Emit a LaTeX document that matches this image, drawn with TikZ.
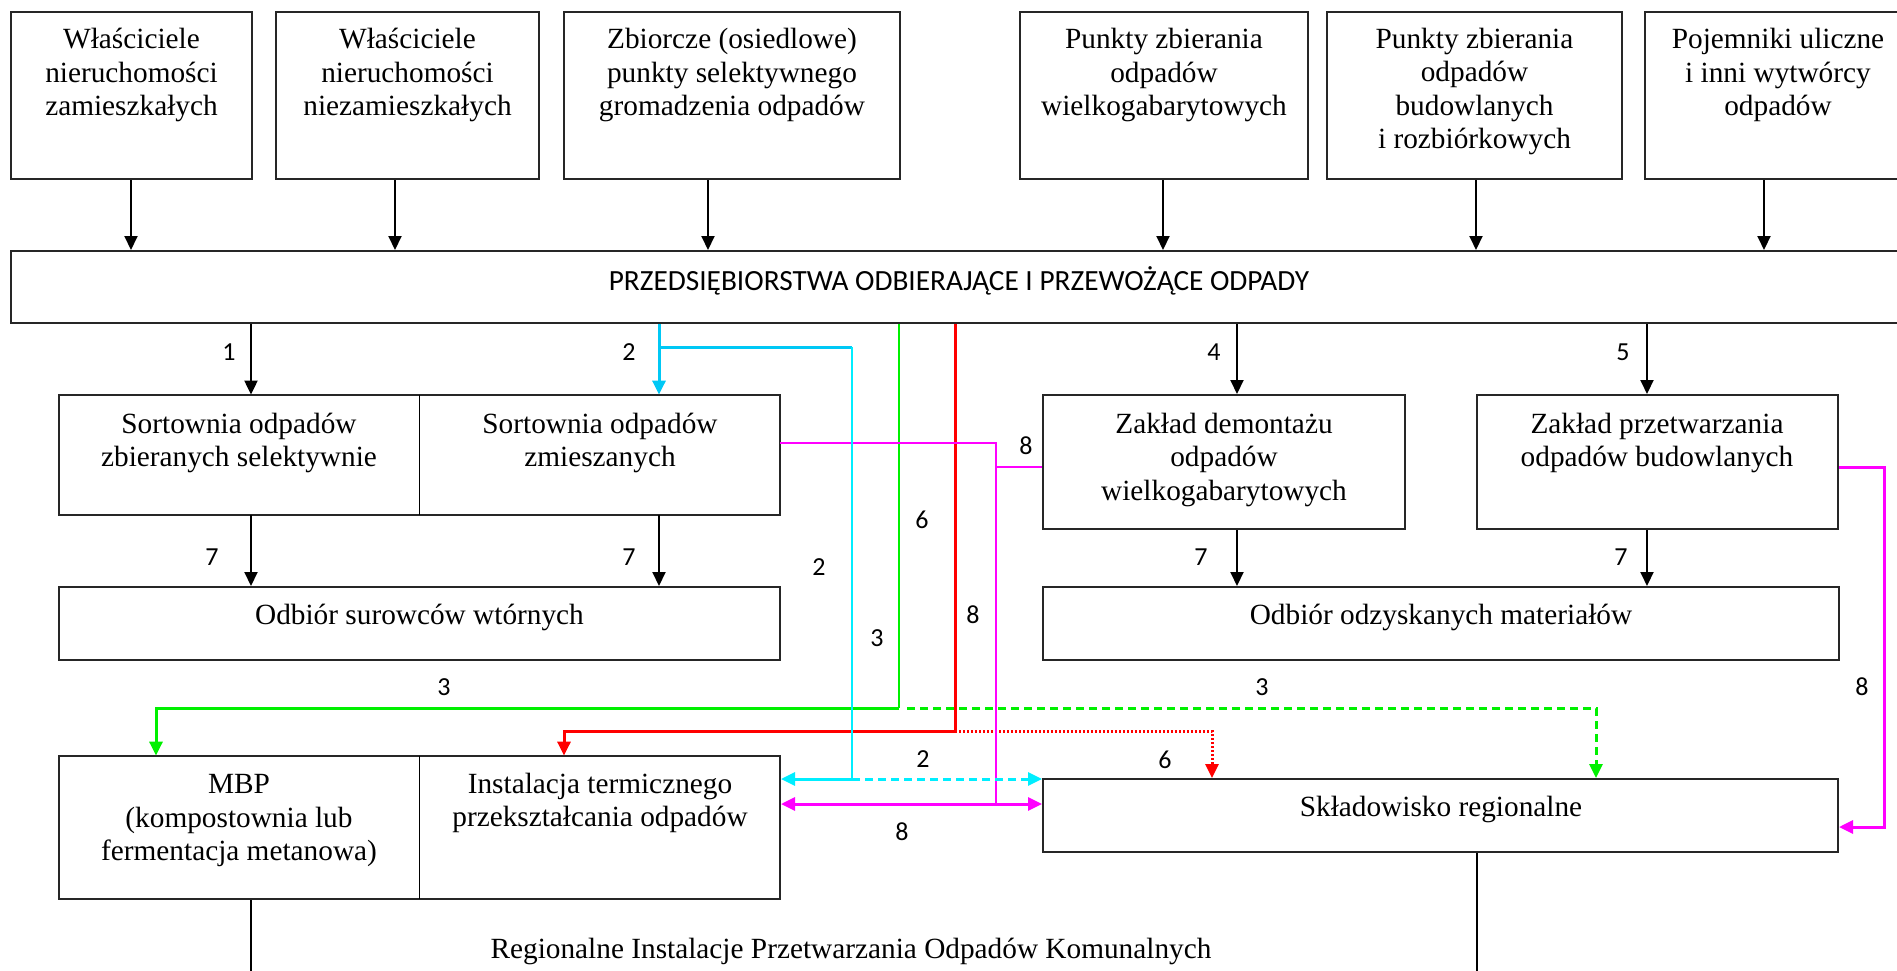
\documentclass[tikz,border=0pt]{standalone}
\usepackage{fontspec}
\setmainfont{Liberation Serif}
\newfontfamily\calib{Carlito}
\usetikzlibrary{arrows.meta,fit,calc}
\definecolor{skyc}{RGB}{0,200,245}
\definecolor{cyanc}{RGB}{0,238,255}
\definecolor{grn}{RGB}{0,240,0}
\definecolor{rd}{RGB}{255,0,0}
\definecolor{mg}{RGB}{255,0,255}
\newcommand\topstr{\rule{0pt}{15pt}}
\newcommand\botstr{\rule[-15pt]{0pt}{15pt}}
\newcommand\midstr{\rule[-15pt]{0pt}{30pt}}
\begin{document}
\begin{tikzpicture}[x=0.5pt,y=-0.5pt,
  >={Triangle[length=7pt,width=6.5pt]},
  box/.style={draw=black!85, line width=1pt, inner sep=0pt},
  hid/.style={inner sep=0pt},
  btxt/.style={font=\fontsize{14.65}{16.75}\selectfont, align=center, inner sep=0pt},
  ttl/.style={font=\calib\fontsize{14.65}{16.75}\selectfont, inner sep=0pt},
  num/.style={font=\calib\fontsize{13}{15}\selectfont, inner sep=0pt},
  arr/.style={line width=1pt, ->},
  thick col/.style={line width=1.5pt},
  thin col/.style={line width=1pt},
  dashpat/.style={dash pattern=on 4pt off 2.5pt},
  dotpat/.style={dash pattern=on 1pt off 1pt}
]
\clip (0,0) rectangle (1897,970);
\fill[white] (0,0) rectangle (1897,970);

% columns and rows
\coordinate (c1) at (131,0);  \coordinate (c2) at (395,0);  \coordinate (c3) at (708,0);
\coordinate (c4) at (1163,0); \coordinate (c5) at (1476,0); \coordinate (c6) at (1764,0);
\coordinate (k1) at (251,0);  \coordinate (k2) at (659,0);  \coordinate (k4) at (1237,0);
\coordinate (k5) at (1647,0); \coordinate (kb) at (1477,0);
\coordinate (xcy) at (852,0); \coordinate (xgr) at (899,0); \coordinate (xgd) at (907,0);
\coordinate (xrd) at (955,0); \coordinate (xmg) at (996,0); \coordinate (xmr) at (1884,0);
\coordinate (g1) at (156,0);  \coordinate (g2) at (1596,0);
\coordinate (r1) at (564,0);  \coordinate (r2) at (1212,0);
\coordinate (ycy) at (0,347); \coordinate (ygr) at (0,708); \coordinate (yrd) at (0,731);
\coordinate (yc2) at (0,779); \coordinate (ym2) at (0,804); \coordinate (ym1) at (0,443);
\coordinate (ymd) at (0,467); \coordinate (ymr) at (0,827); \coordinate (bot) at (0,975);

% boxes
\node[box, fit={(11,12) (252,179)}] (A) {};
\node[box, fit={(276,12) (539,179)}] (B) {};
\node[box, fit={(564,12) (900,179)}] (C) {};
\node[box, fit={(1020,12) (1308,179)}] (D) {};
\node[box, fit={(1327,12) (1622,179)}] (E) {};
\node[box, fit={(1645,12) (1915,179)}] (F) {};
\node[box, fit={(11,251) (1915,323)}] (P) {};
\node[box, fit={(59,395) (780,515)}] (S) {};
\node[hid, fit={(59,395) (419,515)}] (S1) {};
\node[hid, fit={(419,395) (780,515)}] (S2) {};
\node[box, fit={(1043,395) (1405,529)}] (Z1) {};
\node[box, fit={(1477,395) (1838,529)}] (Z2) {};
\node[box, fit={(59,587) (780,660)}] (O1) {};
\node[box, fit={(1043,587) (1839,660)}] (O2) {};
\node[box, fit={(59,756) (780,899)}] (M) {};
\node[hid, fit={(59,756) (419,899)}] (M1) {};
\node[hid, fit={(419,756) (780,899)}] (M2) {};
\node[box, fit={(1043,779) (1838,852)}] (K) {};
\draw[line width=0.6pt] (S1.north east) -- (S1.south east);
\draw[line width=0.6pt] (M1.north east) -- (M1.south east);

% texts
\node[btxt] (tA) at (131.5,82) {\topstr Właściciele\\nieruchomości\\zamieszkałych\botstr};
\node[btxt] (tB) at (407.5,82) {\topstr Właściciele\\nieruchomości\\niezamieszkałych\botstr};
\node[btxt] (tC) at (732,82) {\topstr Zbiorcze (osiedlowe)\\punkty selektywnego\\gromadzenia odpadów\botstr};
\node[btxt] (tD) at (1164,82) {\topstr Punkty zbierania\\odpadów\\wielkogabarytowych\botstr};
\node[btxt] (tE) at (1474.5,98.5) {\topstr Punkty zbierania\\odpadów\\budowlanych\\i rozbiórkowych\botstr};
\node[btxt] (tF) at (1778,82) {\topstr Pojemniki uliczne\\i inni wytwórcy\\odpadów\botstr};
\node[ttl] (tP) at (959,290) {\midstr PRZEDSIĘBIORSTWA ODBIERAJĄCE I PRZEWOŻĄCE ODPADY};
\node[btxt] (tS1) at (239,450) {\topstr Sortownia odpadów\\zbieranych selektywnie\botstr};
\node[btxt] (tS2) at (600,450) {\topstr Sortownia odpadów\\zmieszanych\botstr};
\node[btxt] (tZ1) at (1224,466.5) {\topstr Zakład demontażu\\odpadów\\wielkogabarytowych\botstr};
\node[btxt] (tZ2) at (1657,450) {\topstr Zakład przetwarzania\\odpadów budowlanych\botstr};
\node[btxt] (tO1) at (419.5,624) {\midstr Odbiór surowców wtórnych};
\node[btxt] (tO2) at (1441,624) {\midstr Odbiór odzyskanych materiałów};
\node[btxt] (tM1) at (239,827) {\topstr MBP\\(kompostownia lub\\fermentacja metanowa)\botstr};
\node[btxt] (tM2) at (600,810) {\topstr Instalacja termicznego\\przekształcania odpadów\botstr};
\node[btxt] (tK) at (1441,816) {\midstr Składowisko regionalne};
\node[btxt] (tR) at (851,958) {\midstr Regionalne Instalacje Przetwarzania Odpadów Komunalnych};

% black arrows
\draw[arr] (A.south -| c1) -- (P.north -| c1);
\draw[arr] (B.south -| c2) -- (P.north -| c2);
\draw[arr] (C.south -| c3) -- (P.north -| c3);
\draw[arr] (D.south -| c4) -- (P.north -| c4);
\draw[arr] (E.south -| c5) -- (P.north -| c5);
\draw[arr] (F.south -| c6) -- (P.north -| c6);
\draw[arr] (P.south -| k1) -- (S1.north -| k1);
\draw[arr] (P.south -| k4) -- (Z1.north -| k4);
\draw[arr] (P.south -| k5) -- (Z2.north -| k5);
\draw[arr] (S1.south -| k1) -- (O1.north -| k1);
\draw[arr] (S2.south -| k2) -- (O1.north -| k2);
\draw[arr] (Z1.south -| k4) -- (O2.north -| k4);
\draw[arr] (Z2.south -| k5) -- (O2.north -| k5);
\draw[line width=1pt] (M.south -| k1) -- (bot -| k1);
\draw[line width=1pt] (K.south -| kb) -- (bot -| kb);

% green (3)
\draw[grn, thin col] (P.south -| xgr) -- (xgr |- ygr);
\draw[grn, thick col, ->] (xgr |- ygr) -| (M1.north -| g1);
\draw[grn, thick col, dashpat, ->] (xgd |- ygr) -| (K.north -| g2);

% red (6)
\draw[rd, thick col] (P.south -| xrd) -- (xrd |- yrd);
\draw[rd, thick col, ->] (xrd |- yrd) -| (M2.north -| r1);
\draw[rd, thick col, dotpat, ->] (xrd |- yrd) -| (K.north -| r2);

% magenta (8)
\draw[mg, thin col] (S2.east |- ym1) -- (xmg |- ym1) -- (xmg |- ym2);
\draw[mg, thin col] (Z1.west |- ymd) -- (xmg |- ymd);
\draw[mg, thick col, <->] (M.east |- ym2) -- (K.west |- ym2);
\draw[mg, thick col, ->] (Z2.east |- ymd) -- (xmr |- ymd) -- (xmr |- ymr) -- (K.east |- ymr);

% cyan (2)
\draw[skyc, thick col, ->] (P.south -| k2) -- (S2.north -| k2);
\draw[skyc, thick col] (k2 |- ycy) -- (xcy |- ycy);
\draw[cyanc, thin col] (xcy |- ycy) -- (xcy |- yc2);
\draw[cyanc, thick col, ->] (xcy |- yc2) -- (M.east |- yc2);
\draw[cyanc, thick col, dashpat, ->] (xcy |- yc2) -- (K.west |- yc2);

% numbers
\node[num] (n1) at (229,352) {1};
\node[num] (n2) at (629,352) {2};
\node[num] (n4) at (1214,352) {4};
\node[num] (n5) at (1623,352) {5};
\node[num] (n7a) at (212,557) {7};
\node[num] (n7b) at (629,557) {7};
\node[num] (n7c) at (1201,557) {7};
\node[num] (n7d) at (1621,557) {7};
\node[num] (n2v) at (819,567) {2};
\node[num] (n3v) at (877,638) {3};
\node[num] (n6v) at (922,520) {6};
\node[num] (n8v) at (973,615) {8};
\node[num] (n8d) at (1026,446) {8};
\node[num] (n3l) at (444,687) {3};
\node[num] (n3r) at (1262,687) {3};
\node[num] (n6d) at (1165,760) {6};
\node[num] (n2h) at (923,759) {2};
\node[num] (n8h) at (902,832) {8};
\node[num] (n8r) at (1862,687) {8};
\end{tikzpicture}
\end{document}
